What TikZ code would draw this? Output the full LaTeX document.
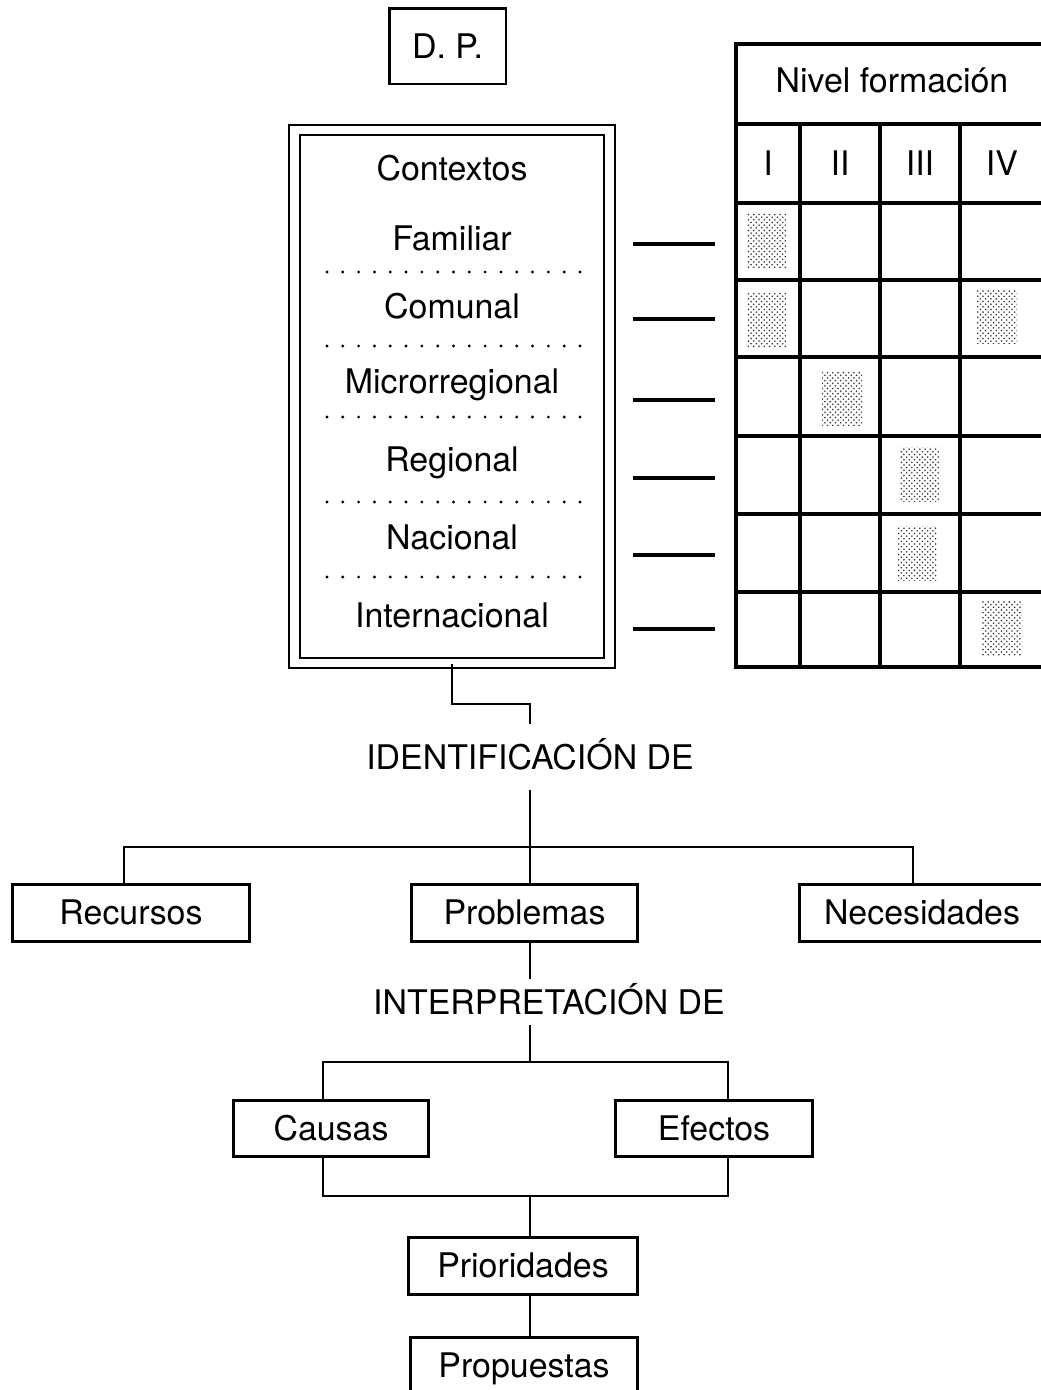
\documentclass[tikz,border=0pt]{standalone}
\usepackage{fontspec}
\setmainfont{TeX Gyre Heros}
\usetikzlibrary{positioning,patterns}

\begin{document}
\begin{tikzpicture}[x=0.02cm, y=0.02cm]
\tikzstyle{every node}+=[inner sep=0pt, font=\fontsize{19.3}{22}\selectfont, text height=13.8pt, text depth=0pt]
\tikzstyle{caja}=[draw, line width=1.7pt, minimum height=1.14cm]
\tikzstyle{linea}=[line width=1.6pt]
\tikzstyle{rejilla}=[line width=2.2pt, line cap=rect]
\tikzstyle{puntos}=[line width=1.8pt, line cap=round, dash pattern=on 0pt off 9pt]
\tikzstyle{marca}=[pattern=crosshatch dots, pattern color=black!80]
\useasboundingbox (0,0) rectangle (1041,-1390);

% D. P. y contextos
\node[caja, minimum width=2.34cm, minimum height=1.52cm] (dp) at (447.5,-46) {D. P.};
\node[draw, double, line width=1.2pt, double distance=0.17cm, minimum width=6.3cm, minimum height=10.66cm] (ctx) at (452,-396.5) {};
\node (tctx) at (452,-168) {Contextos};
\node (fam) at (452,-238) {Familiar};
\node (com) at (452,-306) {Comunal};
\node (mic) at (452,-381) {Microrregional};
\node (reg) at (452,-459) {Regional};
\node (nac) at (452,-537) {Nacional};
\node (int) at (452,-615) {Internacional};
\foreach \y in {272,346,417,502,577}
  \draw[puntos] (327,-\y) -- (590,-\y);
\foreach \y in {244,319,400,478,555,629}
  \draw[rejilla] (635,-\y) -- (713,-\y);

% tabla nivel formacion
\foreach \y in {44,124,203,280,357,436,514,592,667}
  \draw[rejilla] (736,-\y) -- (1050,-\y);
\draw[rejilla] (736,-44) -- (736,-667);
\foreach \x in {800,880,960}
  \draw[rejilla] (\x,-124) -- (\x,-667);
\node (nivel) at (892,-80) {Nivel formación};
\node (n1) at (768,-163) {I};
\node (n2) at (840,-163) {II};
\node (n3) at (920,-163) {III};
\node (n4) at (1002,-163) {IV};
\foreach \x/\y in {767/240, 767/320, 997/316, 842/398, 920/474, 917/553, 1002/628}
  \fill[marca] (\x-20,-\y+27) rectangle (\x+20,-\y-27);

% identificacion
\node[minimum height=1.3cm] (ident) at (530,-757) {IDENTIFICACIÓN DE};
\draw[linea] (ctx.south) -- ++(0,-40) -| (ident.north);
\node[caja, minimum width=4.76cm] (rec) at (131,-912.5) {Recursos};
\node[caja, minimum width=4.54cm] (prob) at (524.5,-912.5) {Problemas};
\node[caja, minimum width=4.92cm] (nec) at (922,-912.5) {Necesidades};
\coordinate (eje) at (530,0);
\coordinate (ramaR) at (124,-847);
\coordinate (ramaN) at (913,-847);
\draw[linea] (ident.south) -- (eje |- prob.north);
\draw[linea] (ramaR |- rec.north) -- (ramaR) -- (ramaN) -- (ramaN |- nec.north);

% interpretacion
\node[minimum height=0.9cm] (interp) at (549,-1002) {INTERPRETACIÓN DE};
\draw[linea] (eje |- prob.south) -- (eje |- interp.north);
\node[caja, minimum width=3.92cm, minimum height=1.12cm] (cau) at (331,-1128) {Causas};
\node[caja, minimum width=3.96cm, minimum height=1.12cm] (efe) at (714,-1128) {Efectos};
\coordinate (ramaC) at (323,-1062);
\coordinate (ramaE) at (728,-1062);
\draw[linea] (eje |- interp.south) -- (eje |- ramaC);
\draw[linea] (ramaC |- cau.north) -- (ramaC) -- (ramaE) -- (ramaE |- efe.north);
\coordinate (uneC) at (323,-1196);
\coordinate (uneE) at (728,-1196);
\draw[linea] (uneC |- cau.south) -- (uneC) -- (uneE) -- (uneE |- efe.south);

% prioridades y propuestas
\node[caja, minimum width=4.6cm] (pri) at (523,-1265.5) {Prioridades};
\node[caja, minimum width=4.56cm] (pro) at (524,-1365.5) {Propuestas};
\draw[linea] (eje |- uneC) -- (eje |- pri.north);
\draw[linea] (eje |- pri.south) -- (eje |- pro.north);
\end{tikzpicture}
\end{document}
